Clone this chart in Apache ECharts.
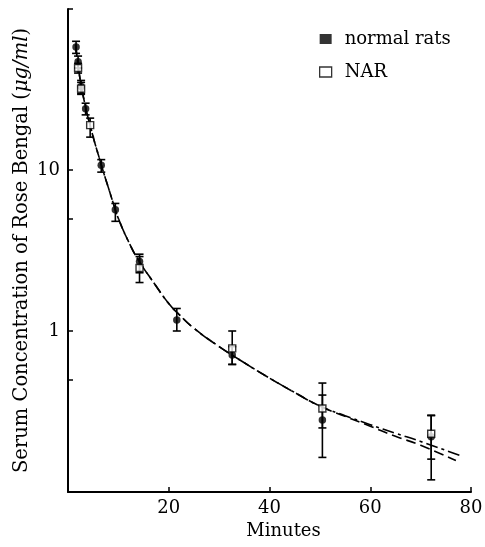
<!DOCTYPE html>
<html><head><meta charset="utf-8">
<script src="https://cdn.jsdelivr.net/npm/echarts@6/dist/echarts.min.js"></script>
<style>html,body{margin:0;padding:0;background:#fff}#c{width:485px;height:547px}</style>
</head><body><div id="c"></div>
<script>
// Sample times (minutes) and concentrations (µg/ml)
const normalX   = [1.6, 2.0, 2.6, 3.5, 6.6, 9.4, 14.2, 21.6, 32.6, 50.5, 72.1];
const normalY   = [58, 47, 33, 24, 10.7, 5.67, 2.7, 1.17, 0.71, 0.28, 0.22];
const normalLo  = [53, 43, 30, 22, 9.7, 4.8, 2.3, 1.0, 0.62, 0.164, 0.119];
const normalHi  = [63, 51, 36, 26, 11.6, 6.2, 3.0, 1.38, 0.80, 0.40, 0.30];
const narX      = [2.0, 2.6, 4.4, 14.2, 32.6, 50.5, 72.1];
const narY      = [43, 32, 19, 2.46, 0.78, 0.33, 0.23];
const narLo     = [40, 29.5, 16, 2.0, 0.62, 0.25, 0.16];
const narHi     = [46, 35, 21, 2.9, 1.0, 0.475, 0.298];
// Fitted curves
const fitX      = [1.5, 2, 2.5, 3, 3.5, 4, 4.5, 5, 6, 7, 8, 9, 10, 12, 14, 17, 20, 22, 25, 30, 35, 40, 45, 50, 55, 60, 65, 70, 77.7];
const fitNormal = [60, 45, 35, 29, 24.5, 21, 18.5, 16, 12.5, 9.8, 7.8, 6.2, 5.0, 3.6, 2.75, 2.0, 1.48, 1.27, 1.04, 0.80, 0.635, 0.51, 0.415, 0.342, 0.298, 0.262, 0.232, 0.206, 0.169];
const fitNarX   = [1.5, 2, 2.5, 3, 3.5, 4, 4.5, 5, 6, 7, 8, 9, 10, 12, 14, 17, 20, 22, 25, 30, 35, 40, 45, 50, 55, 60, 65, 70, 77];
const fitNar    = [60, 45, 35, 29, 24.5, 21, 18.5, 16, 12.5, 9.8, 7.8, 6.2, 5.0, 3.6, 2.75, 2.0, 1.48, 1.27, 1.04, 0.80, 0.635, 0.51, 0.415, 0.342, 0.295, 0.256, 0.222, 0.195, 0.157];
const xTicks = [20, 40, 60, 80];
const yLabels = [1, 10];
const yTicks = [0.5, 1, 5, 10, 100];

const FONT = 'DejaVu Serif';
const zip = (a, b) => a.map((v, i) => [v, b[i]]);
const errData = normalX.map((x, i) => [x, normalLo[i], normalHi[i]])
  .concat(narX.map((x, i) => [x, narLo[i], narHi[i]]));

const chart = echarts.init(document.getElementById('c'));
chart.setOption({
  animation: false,
  backgroundColor: '#fff',
  grid: { left: 68, right: 14, top: 9, bottom: 55, outerBoundsMode: 'none', containLabel: false },
  legend: {
    orient: 'vertical', left: 319, top: 30, itemGap: 15, padding: 0,
    itemWidth: 12, itemHeight: 10,
    textStyle: { fontFamily: FONT, fontSize: 18, color: '#000', padding: [0, 0, 0, 8] },
    data: [
      { name: 'normal rats', icon: 'rect', itemStyle: { color: '#000', borderWidth: 0 } },
      { name: 'NAR', icon: 'rect', itemStyle: { color: '#fff', borderColor: '#000', borderWidth: 1.3 } }
    ]
  },
  xAxis: {
    type: 'value', min: 0, max: 80, interval: 20,
    name: 'Minutes', nameLocation: 'middle', nameGap: 30, nameMoveOverlap: false,
    nameTextStyle: { fontFamily: FONT, fontSize: 18, color: '#000', padding: [0, 0, 0, 28] },
    axisLine: { lineStyle: { color: '#000', width: 2 } },
    axisTick: { inside: true, length: 5, lineStyle: { color: '#000', width: 1.5 } },
    axisLabel: { fontFamily: FONT, fontSize: 18, color: '#000', margin: 7,
      formatter: v => (xTicks.includes(v) ? String(v) : '') },
    splitLine: { show: false }
  },
  yAxis: {
    type: 'log', logBase: 10, min: 0.1, max: 100,
    name: 'Serum Concentration of Rose Bengal ({i|μg/ml})',
    nameLocation: 'middle', nameGap: 36, nameRotate: 90, nameMoveOverlap: false,
    nameTextStyle: { fontFamily: FONT, fontSize: 19.5, color: '#000',
      rich: { i: { fontFamily: FONT, fontSize: 19.5, fontStyle: 'italic', color: '#000' } } },
    axisLine: { show: true, lineStyle: { color: '#000', width: 2 } },
    axisTick: { show: true, inside: true, length: 5, lineStyle: { color: '#000', width: 1.5 }, customValues: yTicks },
    axisLabel: { fontFamily: FONT, fontSize: 18, color: '#000', margin: 8, customValues: yLabels,
      formatter: v => (yLabels.includes(v) ? String(v) : '') },
    splitLine: { show: false }
  },
  series: [
    { name: 'fit normal', type: 'line', data: zip(fitX, fitNormal), showSymbol: false, smooth: true,
      lineStyle: { color: '#000', width: 1.6, type: [12, 4, 3, 4] }, z: 2 },
    { name: 'fit NAR', type: 'line', data: zip(fitNarX, fitNar), showSymbol: false, smooth: true,
      lineStyle: { color: '#000', width: 1.6, type: [10, 5] }, z: 2 },
    { name: 'err', type: 'custom', data: errData, z: 3,
      renderItem: (params, api) => {
        const x = api.value(0);
        const lo = api.coord([x, api.value(1)]);
        const hi = api.coord([x, api.value(2)]);
        const w = 4;
        const st = { stroke: '#000', lineWidth: 1.6 };
        return { type: 'group', children: [
          { type: 'line', shape: { x1: lo[0], y1: lo[1], x2: hi[0], y2: hi[1] }, style: st },
          { type: 'line', shape: { x1: lo[0] - w, y1: lo[1], x2: lo[0] + w, y2: lo[1] }, style: st },
          { type: 'line', shape: { x1: hi[0] - w, y1: hi[1], x2: hi[0] + w, y2: hi[1] }, style: st }
        ] };
      } },
    { name: 'normal rats', type: 'scatter', data: zip(normalX, normalY), symbol: 'circle', symbolSize: 7.5,
      itemStyle: { color: '#000' }, z: 4 },
    { name: 'NAR', type: 'scatter', data: zip(narX, narY), symbol: 'rect', symbolSize: 7,
      itemStyle: { color: '#fff', borderColor: '#000', borderWidth: 1.4 }, z: 5 }
  ]
});
</script></body></html>
